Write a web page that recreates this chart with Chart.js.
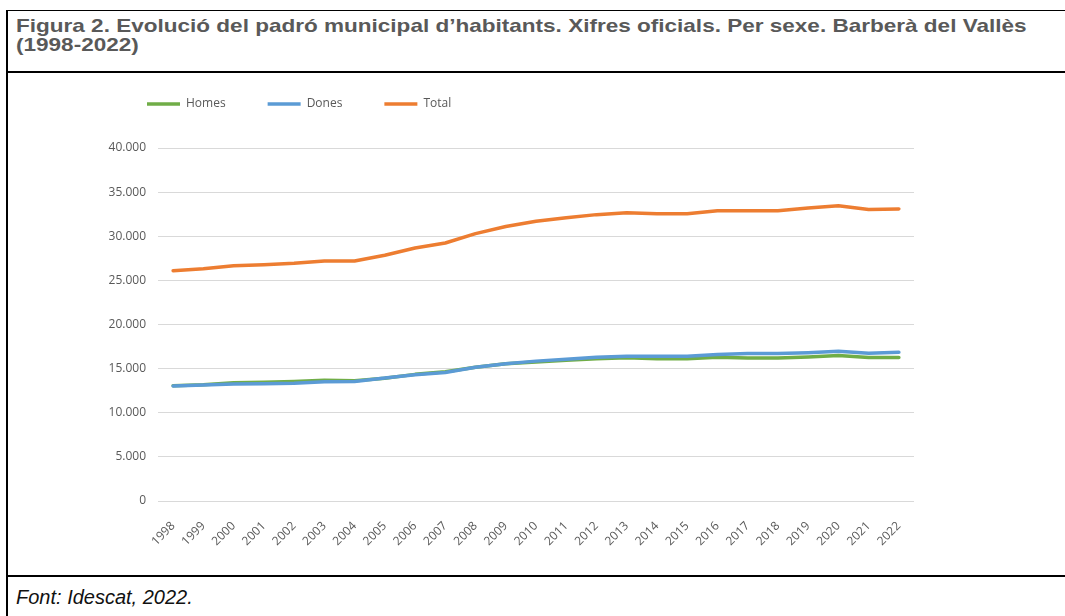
<!DOCTYPE html>
<html lang="ca">
  <head>
    <meta charset="UTF-8" />
    <title>Evolució del padró municipal d'habitants - Barberà del Vallès</title>
    <script src="https://cdn.jsdelivr.net/npm/chart.js@4.4.0/dist/chart.umd.min.js"></script>
    <style>
      body {
        margin: 0;
        width: 1065px;
        height: 616px;
        position: relative;
        overflow: hidden;
        background: #fff;
        font-family: "Liberation Sans", Arial, sans-serif;
      }
      .frame-top {
        position: absolute;
        left: 6px;
        top: 10px;
        right: 0;
        height: 1px;
        background: #000;
      }
      .frame-left {
        position: absolute;
        left: 6px;
        top: 10px;
        width: 2px;
        bottom: 0;
        background: #000;
      }
      .title {
        position: absolute;
        left: 16px;
        top: 16px;
        font-weight: bold;
        font-size: 18.5px;
        line-height: 19px;
        color: #595959;
        white-space: nowrap;
        transform: scaleX(1.218);
        transform-origin: 0 0;
      }
      .rule {
        position: absolute;
        left: 6px;
        right: 0;
        height: 2px;
        background: #000;
      }
      .chart-box {
        position: absolute;
        left: 8px;
        top: 74px;
        width: 1057px;
        height: 500px;
      }
      .source {
        position: absolute;
        left: 16px;
        top: 586px;
        font-style: italic;
        font-size: 20px;
        line-height: 22px;
        color: #111;
      }
    </style>
  </head>
  <body>
    <div class="frame-top"></div>
    <div class="frame-left"></div>
    <div class="title">
      Figura 2. Evolució del padró municipal d’habitants. Xifres oficials. Per sexe. Barberà del Vallès<br />(1998-2022)
    </div>
    <div class="rule" style="top: 71px"></div>
    <div class="chart-box"><canvas id="padroChart"></canvas></div>
    <div class="rule" style="top: 575px"></div>
    <div class="source">Font: Idescat, 2022.</div>

    <script>
      // Anys del padró
      const years = [
        "1998", "1999", "2000", "2001", "2002", "2003", "2004", "2005", "2006",
        "2007", "2008", "2009", "2010", "2011", "2012", "2013", "2014", "2015",
        "2016", "2017", "2018", "2019", "2020", "2021", "2022",
      ];

      // Valors llegits del gràfic (habitants)
      const homes = [
        13060, 13180, 13400, 13450, 13550, 13680, 13620, 13900, 14350, 14650,
        15150, 15550, 15750, 15950, 16120, 16220, 16130, 16130, 16300, 16200,
        16200, 16330, 16480, 16260, 16250,
      ];
      const dones = [
        13040, 13150, 13270, 13300, 13350, 13500, 13550, 13950, 14300, 14550,
        15150, 15550, 15850, 16060, 16290, 16400, 16400, 16400, 16600, 16700,
        16700, 16800, 16970, 16750, 16850,
      ];
      const total = [
        26100, 26330, 26670, 26780, 26930, 27200, 27200, 27840, 28670, 29240,
        30300, 31100, 31700, 32100, 32450, 32650, 32550, 32550, 32900, 32900,
        32900, 33200, 33450, 33030, 33100,
      ];

      // Eix Y
      const yMin = 0;
      const yMax = 40000;
      const yStep = 5000;

      const seriesNames = ["Homes", "Dones", "Total"];
      const seriesColors = ["#70AD47", "#5B9BD5", "#ED7D31"];

      const textColor = "#595959";
      const gridColor = "#d9d9d9";
      const tickFont = { family: "'Open Sans', sans-serif", size: 12 };

      // format amb punt de milers: 40000 -> 40.000
      function formatThousands(v) {
        return String(v).replace(/\B(?=(\d{3})+(?!\d))/g, ".");
      }

      // Col·loca la llegenda a dalt a l'esquerra, com a l'original
      const legendPlacement = {
        id: "legendPlacement",
        beforeInit(chart) {
          const fit = chart.legend.fit;
          chart.legend.fit = function () {
            fit.call(this);
            this.height = 74;
          };
        },
        afterLayout(chart) {
          chart.legend.left = 97;
          chart.legend.top = -18;
        },
      };

      function makeDataset(i, values, order) {
        return {
          label: seriesNames[i],
          data: values,
          borderColor: seriesColors[i],
          backgroundColor: seriesColors[i],
          borderWidth: 3.5,
          borderCapStyle: "round",
          borderJoinStyle: "round",
          pointRadius: 0,
          pointHoverRadius: 0,
          tension: 0,
          fill: false,
          order: order,
        };
      }

      function init() {
        const ctx = document.getElementById("padroChart").getContext("2d");
        new Chart(ctx, {
          type: "line",
          data: {
            labels: years,
            datasets: [
              makeDataset(0, homes, 2),
              makeDataset(1, dones, 1),
              makeDataset(2, total, 0),
            ],
          },
          options: {
            responsive: true,
            maintainAspectRatio: false,
            animation: false,
            layout: { padding: { left: 0, right: 151, top: 0, bottom: 0 } },
            plugins: {
              legend: {
                position: "top",
                align: "start",
                labels: {
                  usePointStyle: true,
                  pointStyle: "line",
                  pointStyleWidth: 33,
                  boxWidth: 33,
                  padding: 42,
                  color: textColor,
                  font: tickFont,
                  sort: (a, b) => a.datasetIndex - b.datasetIndex,
                },
              },
              tooltip: { enabled: false },
            },
            scales: {
              x: {
                offset: true,
                grid: { display: false },
                border: { display: false },
                ticks: {
                  color: textColor,
                  font: tickFont,
                  minRotation: 45,
                  maxRotation: 45,
                  autoSkip: false,
                  padding: 10,
                },
                afterFit: (s) => {
                  s.height = 73;
                },
              },
              y: {
                min: yMin,
                max: yMax,
                grid: { color: gridColor, lineWidth: 1, drawTicks: false },
                border: { display: false },
                ticks: {
                  stepSize: yStep,
                  color: textColor,
                  font: tickFont,
                  padding: 12,
                  callback: (v) => formatThousands(v),
                },
                afterFit: (s) => {
                  s.width = 150;
                },
              },
            },
          },
          plugins: [legendPlacement],
        });
      }

      window.onload = init;
    </script>
  </body>
</html>
